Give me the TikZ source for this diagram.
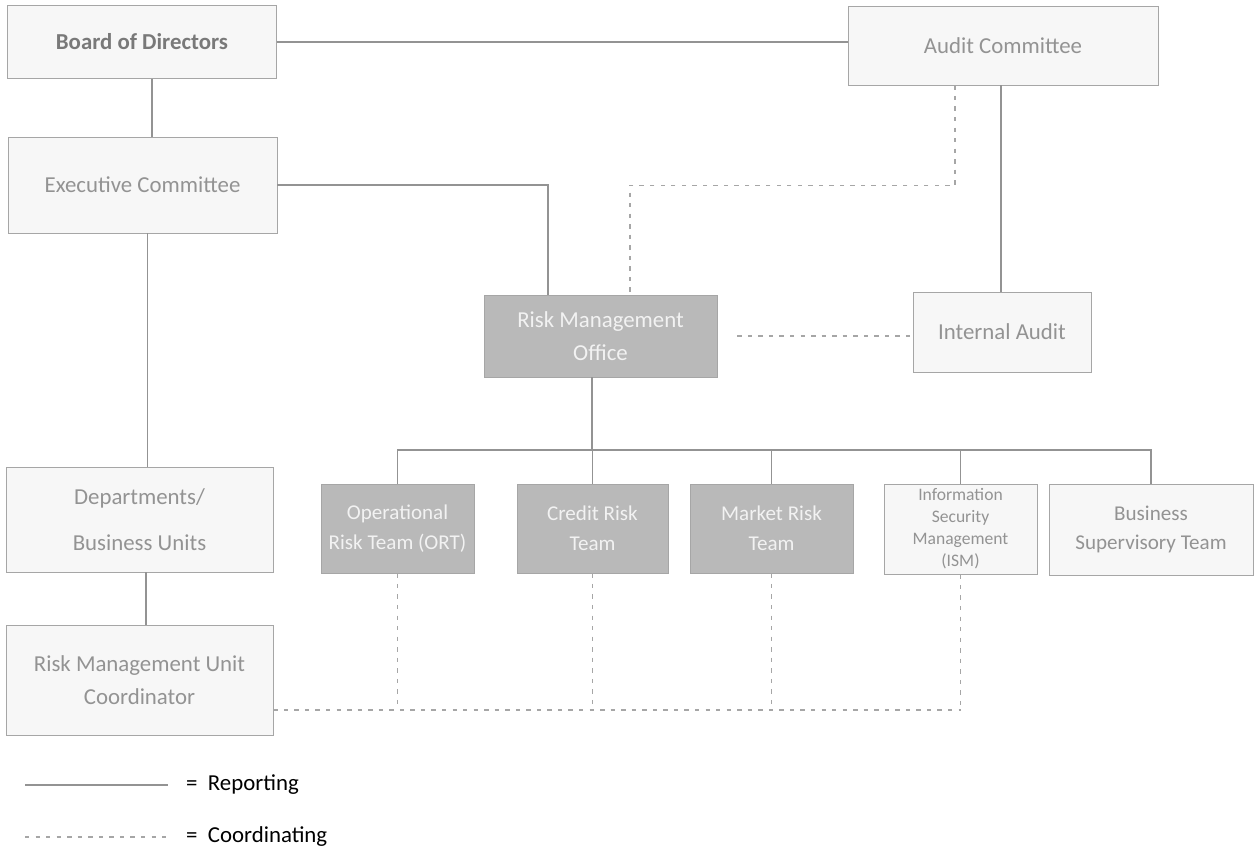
\documentclass[tikz,border=0pt]{standalone}
\usepackage{fontspec}
\setmainfont{Carlito}
\usepackage{tikz}
\usetikzlibrary{positioning, calc}

\begin{document}
\begin{tikzpicture}[x=0.02cm, y=-0.02cm,
    box/.style={draw=gray!70, fill=gray!6, text=gray!85, font=\fontsize{13}{19}\selectfont, align=center, inner sep=2pt},
    dark/.style={box, fill=gray!55, text=gray!10},
    rep/.style={draw=gray!85, line width=0.6pt},
    coord/.style={draw=gray!70, line width=0.6pt, dash pattern=on 2.5pt off 3.5pt}]
    \useasboundingbox (0,0) rectangle (1255,859);
    % top level
    \node[box, minimum width=5.38cm, minimum height=1.46cm, text=gray!95!black, font=\fontsize{13}{19}\selectfont\bfseries] (board) at (142,42) {Board of Directors};
    \node[box, minimum width=6.2cm, minimum height=1.58cm] (audit) at (1003,45.5) {Audit Committee};
    \node[box, minimum width=5.38cm, minimum height=1.92cm] (exec) at (142.5,185) {Executive Committee};
    \node[dark, minimum width=4.66cm, minimum height=1.64cm] (rmo) at (600.5,336) {Risk Management\\Office};
    \node[box, minimum width=3.56cm, minimum height=1.6cm] (ia) at (1002,332) {Internal Audit};
    \node[box, minimum width=5.34cm, minimum height=2.1cm, font=\fontsize{13}{26}\selectfont] (dept) at (139.5,519.5) {Departments/\\Business Units};
    \node[box, minimum width=5.34cm, minimum height=2.2cm] (rmuc) at (139.5,680) {Risk Management Unit\\Coordinator};
    % teams
    \node[dark, minimum width=3.06cm, minimum height=1.78cm, font=\fontsize{12}{17}\selectfont] (ort) at (397.5,528.5) {Operational\\Risk Team (ORT)};
    \node[dark, minimum width=3.02cm, minimum height=1.78cm, font=\fontsize{12}{17}\selectfont] (crt) at (592.5,528.5) {Credit Risk\\Team};
    \node[dark, minimum width=3.26cm, minimum height=1.78cm, font=\fontsize{12}{17}\selectfont] (mrt) at (771.5,528.5) {Market Risk\\Team};
    \node[box, minimum width=3.06cm, minimum height=1.8cm, font=\fontsize{10}{12.5}\selectfont] (ism) at (960.5,529) {Information\\Security\\Management\\(ISM)};
    \node[box, minimum width=4.08cm, minimum height=1.82cm, font=\fontsize{12}{17}\selectfont] (bst) at (1151,529.5) {Business\\Supervisory Team};
    \coordinate (bus) at (0,450);
    \coordinate (cb) at (0,710);

    % reporting lines
    \draw[rep] (board.east) -- (board.east -| audit.west);
    \draw[rep] ([xshift=0.2cm]board.south) -- ([xshift=0.2cm]board.south |- exec.north);
    \draw[rep] (exec.east) -| ([xshift=-1.05cm]rmo.north);
    \draw[rep] ([xshift=-0.04cm]audit.south) -- ([xshift=-0.04cm]audit.south |- ia.north);
    \draw[rep] ([xshift=0.1cm]exec.south) -- ([xshift=0.1cm]exec.south |- dept.north);
    \draw[rep] ([xshift=0.13cm]dept.south) -- ([xshift=0.13cm]dept.south |- rmuc.north);
    \draw[rep] ([xshift=-0.17cm]rmo.south) -- ([xshift=-0.17cm]rmo.south |- bus);
    \foreach \t in {ort,crt,mrt,ism,bst}
        \draw[rep] (\t.north) |- ([xshift=-0.17cm]rmo.south |- bus);

    % coordinating lines
    \draw[coord] ([xshift=-0.96cm]audit.south) -- ++(0,-2cm) -| ([xshift=0.59cm]rmo.north);
    \draw[coord] ([xshift=0.4cm]rmo.east) -- (rmo.east -| ia.west);
    \draw[coord] (rmuc.east |- cb) -- (ism.south |- cb);
    \foreach \t in {ort,crt,mrt,ism}
        \draw[coord] (\t.south) -- (\t.south |- cb);

    % legend
    \coordinate (la) at (25,785);
    \coordinate (lb) at (168,785);
    \coordinate (lc) at (25,837);
    \coordinate (ld) at (168,837);
    \draw[rep] (la) -- (lb);
    \draw[coord] (lc) -- (ld);
    \node[anchor=west, font=\fontsize{13}{16}\selectfont] (lrep) at (180,785) {=\ \ Reporting};
    \node[anchor=west, font=\fontsize{13}{16}\selectfont] (lcoord) at (180,837) {=\ \ Coordinating};
\end{tikzpicture}
\end{document}
